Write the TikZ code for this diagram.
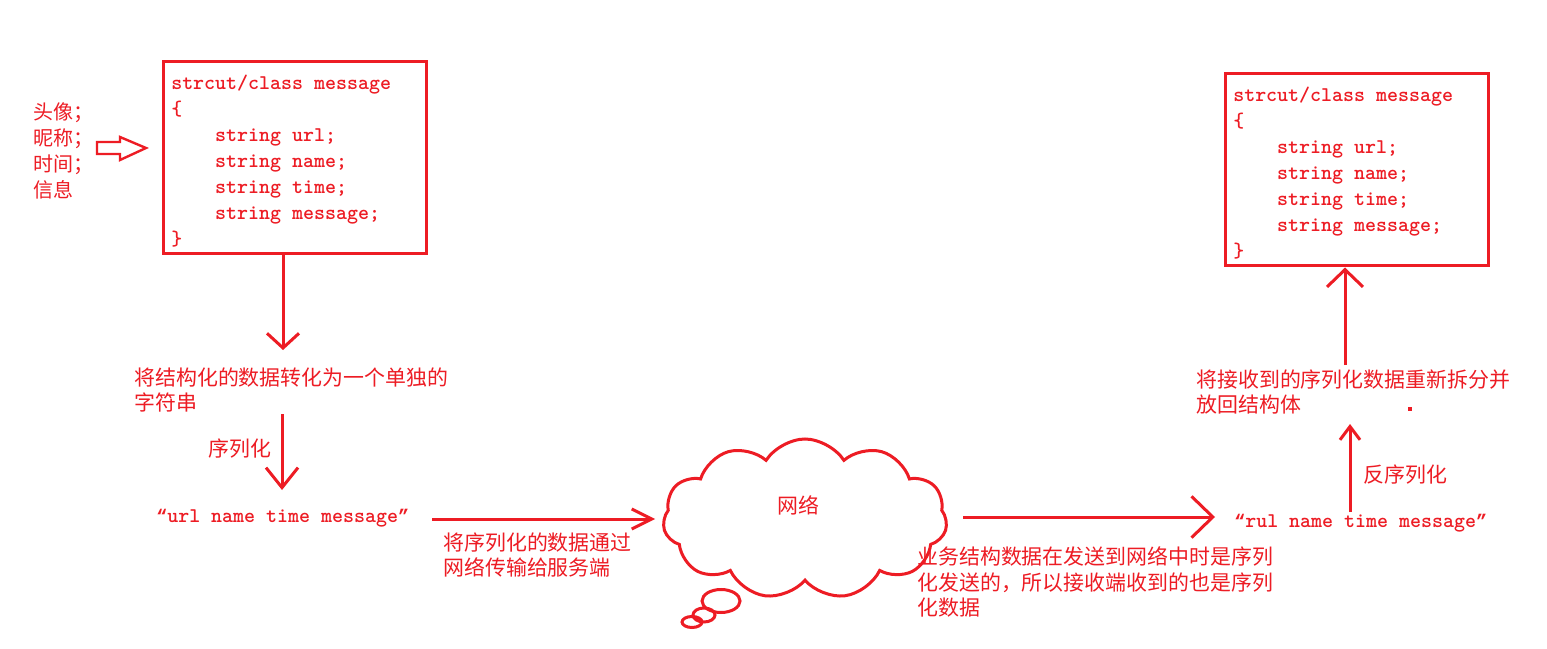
\documentclass[tikz,border=0pt]{standalone}
\usepackage{fontspec}
\usetikzlibrary{arrows.meta,shapes.symbols}
\newfontfamily\cjk{Noto Sans CJK SC}
\newfontfamily\qfont{Liberation Mono}
\newcommand{\oq}{{\qfont\bfseries\fontsize{13.75}{19.5}\selectfont “}}
\newcommand{\cq}{{\qfont\bfseries\fontsize{13.75}{19.5}\selectfont ”}}
\definecolor{pred}{HTML}{ED1C24}
\tikzset{
  redline/.style={draw=pred, line width=2.25pt},
  codebox/.style={draw=pred, line width=2.25pt, minimum width=263*0.75pt, minimum height=192*0.75pt, inner sep=0pt},
  codetext/.style={text=pred, anchor=west, inner sep=0pt, align=left, font={\ttfamily\bfseries\fontsize{15.7}{19.5}\selectfont}},
  monotext/.style={text=pred, anchor=west, inner sep=0pt, font={\ttfamily\bfseries\fontsize{15.7}{19.5}\selectfont}},
  cntext/.style={text=pred, anchor=west, inner sep=0pt, align=left, font={\cjk\fontsize{15.7}{19.2}\selectfont}},
  lbltext/.style={text=pred, anchor=west, inner sep=0pt, align=left, font={\cjk\fontsize{15}{19.3}\selectfont}},
  arrA/.style={redline, -{Straight Barb[length=11pt, width=24pt]}},
  arrB/.style={redline, -{Straight Barb[length=15pt, width=24pt]}},
  arrC/.style={redline, -{Straight Barb[length=15pt, width=15pt]}},
  arrD/.style={redline, -{Straight Barb[length=16pt, width=31pt]}},
  arrE/.style={redline, -{Straight Barb[length=10pt, width=15pt]}},
  arrF/.style={redline, -{Straight Barb[length=13pt, width=27pt]}},
}
\begin{document}
\begin{tikzpicture}[x=0.75pt,y=-0.75pt]
\useasboundingbox[fill=white] (0,0) rectangle (1547,649);

% left labels and hollow arrow
\node[lbltext] (lbl) at (33,151) {头像；\\昵称；\\时间；\\信息};
\draw[draw=pred, line width=1.8pt, line join=miter]
  (97,142) -- (120,142) -- (120,137) -- (146,148) -- (120,160) -- (120,154) -- (97,154) -- cycle;

% left box
\node[codebox] (box1) at (294.5,158) {};
\node[codetext] (code1) at (171,161) {strcut/class message\\\{\\\phantom{xxxx}string url;\\\phantom{xxxx}string name;\\\phantom{xxxx}string time;\\\phantom{xxxx}string message;\\\}};

% serialization column
\coordinate (a1) at (283,350);
\draw[arrA] (a1 |- box1.south) -- (a1);
\node[cntext] (t1) at (134,390) {将结构化的数据转化为一个单独的\\字符串};
\node[cntext] (ser) at (208,449) {序列化};
\coordinate (a2s) at (282,414);
\coordinate (a2e) at (282,490);
\draw[arrB] (a2s) -- (a2e);
\node[monotext] (s1) at (156,518) {\oq url name time message\cq};

% to the network
\node[cloud, draw=pred, line width=2.25pt, cloud puffs=11, cloud puff arc=115, cloud ignores aspect, minimum width=284*0.75pt, minimum height=160*0.75pt, inner sep=0pt] (net) at (805,519) {};
\node[cntext, anchor=center] (netlbl) at (798,505) {网络};
\draw[pred, line width=2.25pt] (721,601) ellipse [x radius=19, y radius=11.5];
\draw[pred, line width=2.25pt] (704,615) ellipse [x radius=11, y radius=7];
\draw[pred, line width=2.25pt] (692,622) ellipse [x radius=10, y radius=5.5];

\coordinate (a3s) at (432,519);
\coordinate (a3e) at (655,519);
\draw[arrC] (a3s) -- (a3e);
\node[cntext] (t2) at (443,555) {将序列化的数据通过\\网络传输给服务端};

\coordinate (a4s) at (963,517);
\coordinate (a4e) at (1215,517);
\draw[arrD] (a4s) -- (a4e);
\node[cntext] (t3) at (917,582) {业务结构数据在发送到网络中时是序列\\化发送的，所以接收端收到的也是序列\\化数据};

% receiver side
\node[monotext] (s2) at (1234,523) {\oq rul name time message\cq};
\coordinate (a5s) at (1350,512);
\coordinate (a5e) at (1350,424);
\draw[arrE] (a5s) -- (a5e);
\node[cntext] (deser) at (1363,475) {反序列化};
\node[cntext] (t4) at (1196,392) {将接收到的序列化数据重新拆分并\\放回结构体};
\fill[pred] (1408,407) rectangle (1412,411);

\node[codebox] (box2) at (1356.5,170) {};
\node[codetext] (code2) at (1233,173) {strcut/class message\\\{\\\phantom{xxxx}string url;\\\phantom{xxxx}string name;\\\phantom{xxxx}string time;\\\phantom{xxxx}string message;\\\}};
\coordinate (a6) at (1345,365);
\draw[arrF] (a6) -- (a6 |- box2.south);
\end{tikzpicture}
\end{document}
